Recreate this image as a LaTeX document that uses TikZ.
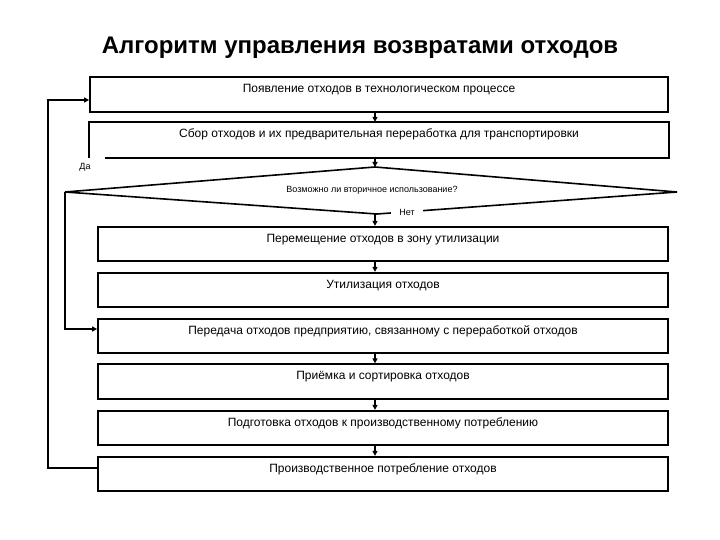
\documentclass[tikz,border=0pt]{standalone}
\usepackage{fontspec}
\setmainfont{Liberation Sans}
\usetikzlibrary{arrows.meta,calc}
\begin{document}
\begin{tikzpicture}[x=1pt,y=-1pt,
  box/.style={draw=black,line width=1.8pt,minimum height=34.5pt,inner sep=0pt,
    font=\fontsize{12}{14}\selectfont,text height=9pt,text depth=13pt},
  wide/.style={minimum width=578pt},
  narrow/.style={minimum width=570pt},
  conn/.style={line width=1.6pt},
  arr/.style={line width=1.6pt,-{Triangle[length=5pt,width=5pt]}},
  small/.style={font=\fontsize{9}{10}\selectfont,inner sep=1pt}]
\useasboundingbox (0,0) rectangle (720,540);
\node[font=\fontsize{24}{28}\selectfont\bfseries] (title) at (360,48) {Алгоритм управления возвратами отходов};
\node[box,wide] (b1) at (379,94.5) {Появление отходов в технологическом процессе};
\node[box,wide,draw=none] (b2) at (379,140) {Сбор отходов и их предварительная переработка для транспортировки};
\draw[line width=1.8pt] ($(b2.south west)+(16,0)$) -- (b2.south east) -- (b2.north east) -- (b2.north west) -- (b2.south west);
\node[box,narrow] (b3) at (383,244) {Перемещение отходов в зону утилизации};
\node[box,narrow] (b4) at (383,290) {Утилизация отходов};
\node[box,narrow] (b5) at (383,336) {Передача отходов предприятию, связанному с переработкой отходов};
\node[box,narrow] (b6) at (383,381.5) {Приёмка и сортировка отходов};
\node[box,narrow] (b7) at (383,428) {Подготовка отходов к производственному потреблению};
\node[box,narrow] (b8) at (383,474) {Производственное потребление отходов};
% decision
\coordinate (dl) at (65,192);
\coordinate (dt) at (375,167);
\coordinate (dr) at (677,192);
\coordinate (db) at (377,214);
\draw[conn,line join=miter] (dl) -- (dt) -- (dr) -- (db) -- cycle;
\node[small] (q) at (372,190) {Возможно ли вторичное использование?};
\node[small,fill=white,inner xsep=8pt] (no) at (407,212) {Нет};
\node[small] (yes) at (85,167) {Да};
\coordinate (ax) at (375,0);
\coordinate (yy) at (0,329);
\coordinate (lx) at (48,0);
\coordinate (ly1) at (0,100);
\coordinate (ly8) at (0,468);
% arrows
\draw[arr] (b1.south -| ax) -- (b2.north -| ax);
\draw[arr] (b2.south -| ax) -- (dt);
\draw[arr] (db -| ax) -- (b3.north -| ax);
\draw[arr] (b3.south -| ax) -- (b4.north -| ax);
\draw[arr] (b5.south -| ax) -- (b6.north -| ax);
\draw[arr] (b6.south -| ax) -- (b7.north -| ax);
\draw[arr] (b7.south -| ax) -- (b8.north -| ax);
\draw[arr] (dl) |- (b5.west |- yy);
\draw[arr] (b8.west |- ly8) -| (lx |- ly1) -- (b1.west |- ly1);
\end{tikzpicture}
\end{document}
